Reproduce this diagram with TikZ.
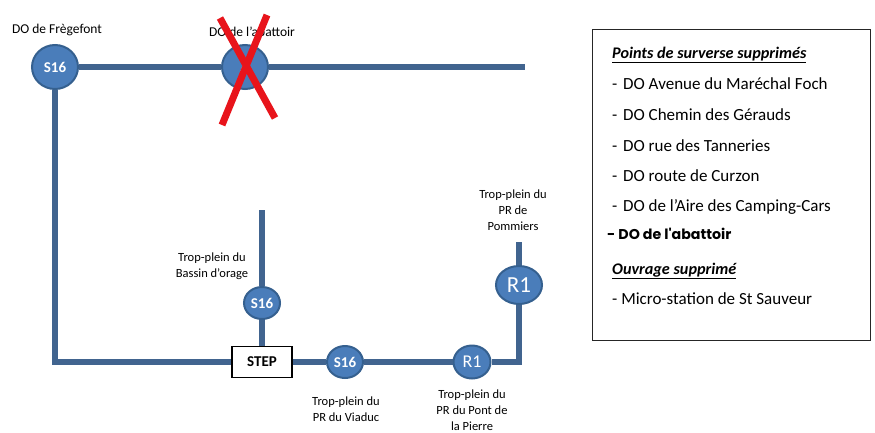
\documentclass[tikz,border=0pt]{standalone}
\usepackage{fontspec}
\setmainfont{Carlito}
\newfontfamily\gothicfont{Poppins}
\usetikzlibrary{shapes.geometric, positioning, calc}
\definecolor{pipeblue}{HTML}{41648F}
\definecolor{nodeblue}{HTML}{4A7DBA}
\definecolor{nodeedge}{HTML}{35608F}
\definecolor{crossred}{HTML}{E8141B}

\begin{document}
\begin{tikzpicture}[x=1pt, y=-1pt,
  pipe/.style={draw=pipeblue, line width=6pt},
  station/.style={ellipse, fill=nodeblue, draw=nodeedge, line width=2pt, inner sep=0pt,
    text=white, font=\fontsize{15}{15}\selectfont\bfseries},
  bigstation/.style={station, minimum width=46pt, minimum height=44pt},
  smallstation/.style={station, minimum width=36pt, minimum height=32pt},
  stepbox/.style={rectangle, draw=black, line width=1.2pt, fill=white, minimum width=60pt,
    minimum height=31pt, font=\fontsize{15}{15}\selectfont\bfseries},
  note/.style={align=center, inner sep=0pt, font=\fontsize{12.5}{16}\selectfont},
  topnote/.style={inner sep=0pt, font=\fontsize{13.5}{16}\selectfont},
  legendtext/.style={anchor=base west, inner sep=0pt, font=\fontsize{17}{20}\selectfont},
  cross/.style={draw=crossred, line width=7pt}
]
\clip (0,0) rectangle (875,432);
\fill[white] (0,0) rectangle (875,432);

% stations du reseau
\node (s16fre) [bigstation] at (55,67) {S16};
\node (abat) [bigstation, font=\fontsize{15}{15}\selectfont] at (245,67) {A};
\node (s16orage) [smallstation] at (262,303) {S16};
\node (step) [stepbox] at (262,362) {STEP};
\node (s16viaduc) [smallstation] at (345,362) {S16};
\node (r1pont) [smallstation, minimum width=37pt, minimum height=33pt,
  font=\fontsize{18}{18}\selectfont] at (472,362) {R1};
\node (r1pom) [bigstation, minimum height=38pt, font=\fontsize{23}{23}\selectfont] at (519,285) {R1};

% points d'angle et extremites
\coordinate (topend) at (525,67);
\coordinate (c1) at (55,362);
\coordinate (c2) at (519,362);
\coordinate (oragetop) at (262,210);
\coordinate (pomtop) at (519,242);

% canalisations
\draw[pipe] (s16fre) -- (abat) -- (topend);
\draw[pipe] (s16fre) -- (c1) -- (step);
\draw[pipe] (oragetop) -- (s16orage);
\draw[pipe] (s16orage) -- (step);
\draw[pipe] (step) -- (s16viaduc) -- (r1pont) -- (c2) -- (r1pom);
\draw[pipe] (pomtop) -- (r1pom);

% etiquettes
\node (lfre) [topnote] at (57,30) {DO de Frègefont};
\node (labat) [topnote] at (252,32) {DO de l’abattoir};
\node (lorage) [note] at (212,266) {Trop-plein du\\Bassin d’orage};
\node (lpom) [note] at (513,210) {Trop-plein du\\PR de\\Pommiers};
\node (lviaduc) [note] at (346,409) {Trop-plein du\\PR du Viaduc};
\node (lpont) [note] at (472,410) {Trop-plein du\\PR du Pont de\\la Pierre};

% croix rouge
\draw[cross] ($(abat)+(-25,-49)$) -- ($(abat)+(30,51)$);
\draw[cross] ($(abat)+(22,-52)$) -- ($(abat)+(-23,58)$);

% legende
\node (legendbox) [rectangle, draw=black!85, line width=1.2pt, minimum width=278pt,
  minimum height=311pt, anchor=north west, inner sep=0pt] at (592,29) {};
\node (head1) [legendtext, font=\fontsize{16.2}{20}\selectfont] at (612,58) {\bfseries\itshape\underline{Points de surverse supprimés}};
\node (item1) [legendtext] at (612,89) {\makebox[11pt][l]{-}DO Avenue du Maréchal Foch};
\node (item2) [legendtext] at (612,120) {\makebox[11pt][l]{-}DO Chemin des Gérauds};
\node (item3) [legendtext] at (612,151) {\makebox[11pt][l]{-}DO rue des Tanneries};
\node (item4) [legendtext] at (612,181) {\makebox[11pt][l]{-}DO route de Curzon};
\node (item5) [legendtext] at (612,211) {\makebox[11pt][l]{-}DO de l’Aire des Camping-Cars};
\node (item6) [legendtext, font=\fontsize{14.2}{16}\gothicfont\bfseries] at (607,239) {- DO de l'abattoir};
\node (head2) [legendtext, font=\fontsize{16.2}{20}\selectfont] at (612,274) {\bfseries\itshape\underline{Ouvrage supprimé}};
\node (item7) [legendtext] at (612,304) {- Micro-station de St Sauveur};
\end{tikzpicture}
\end{document}
